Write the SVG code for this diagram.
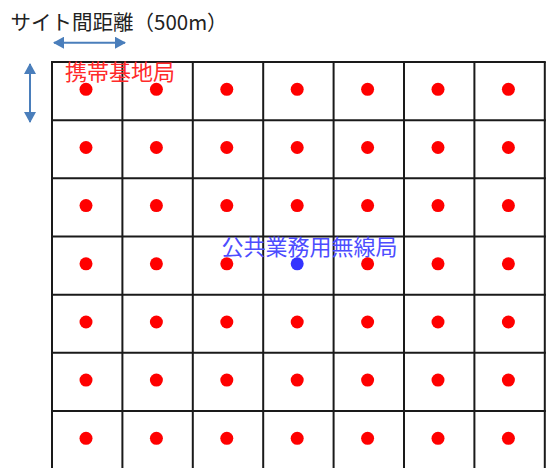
<svg xmlns="http://www.w3.org/2000/svg" width="549" height="468" viewBox="0 0 549 468">
<style>
.grid line{stroke:#1a1a1a;stroke-width:2}
.bs{fill:#ff0000}
.pub{fill:#3333ff}
.t{font-family:"Noto Sans CJK JP","Noto Sans",sans-serif}
.arr{stroke:#4a7ebb;stroke-width:2;fill:none;marker-end:url(#ah);marker-start:url(#ahs)}
</style>
<defs>
<marker id="ah" markerUnits="userSpaceOnUse" markerWidth="11" markerHeight="12" refX="10" refY="6" orient="auto"><path d="M0,0 L11,6 L0,12 z" fill="#4a7ebb"/></marker>
<marker id="ahs" markerUnits="userSpaceOnUse" markerWidth="11" markerHeight="12" refX="10" refY="6" orient="auto-start-reverse"><path d="M0,0 L11,6 L0,12 z" fill="#4a7ebb"/></marker>
</defs>
<rect width="549" height="468" fill="#ffffff"/>
<g id="grid" class="grid">
<line x1="52" y1="62" x2="52" y2="468"/>
<line x1="122.4" y1="62" x2="122.4" y2="468"/>
<line x1="192.8" y1="62" x2="192.8" y2="468"/>
<line x1="263.2" y1="62" x2="263.2" y2="468"/>
<line x1="333.6" y1="62" x2="333.6" y2="468"/>
<line x1="404" y1="62" x2="404" y2="468"/>
<line x1="474.4" y1="62" x2="474.4" y2="468"/>
<line x1="544.8" y1="62" x2="544.8" y2="468"/>
<line x1="51" y1="62" x2="545.8" y2="62"/>
<line x1="51" y1="120.2" x2="545.8" y2="120.2"/>
<line x1="51" y1="178.3" x2="545.8" y2="178.3"/>
<line x1="51" y1="236.5" x2="545.8" y2="236.5"/>
<line x1="51" y1="294.7" x2="545.8" y2="294.7"/>
<line x1="51" y1="352.8" x2="545.8" y2="352.8"/>
<line x1="51" y1="411" x2="545.8" y2="411"/>
</g>
<g id="connectors">
<line class="arr" x1="54" y1="42.7" x2="125" y2="42.7"/>
<line class="arr" x1="30" y1="64" x2="30" y2="122"/>
</g>
<g id="label-distance"><text class="t" x="10.5" y="30" font-size="20.5" fill="#222">サイト間距離（500m）</text></g>
<g id="label-base"><text class="t" x="65" y="79.5" font-size="22" fill="#ff2a2a">携帯基地局</text></g>
<g id="label-public"><text class="t" x="221.5" y="254.5" font-size="22" fill="#4d4dff">公共業務用無線局</text></g>
<g id="base-stations">
<circle class="bs" cx="86" cy="89.3" r="6.5"/><circle class="bs" cx="156.4" cy="89.3" r="6.5"/><circle class="bs" cx="226.8" cy="89.3" r="6.5"/><circle class="bs" cx="297.2" cy="89.3" r="6.5"/><circle class="bs" cx="367.6" cy="89.3" r="6.5"/><circle class="bs" cx="438" cy="89.3" r="6.5"/><circle class="bs" cx="508.4" cy="89.3" r="6.5"/>
<circle class="bs" cx="86" cy="147.5" r="6.5"/><circle class="bs" cx="156.4" cy="147.5" r="6.5"/><circle class="bs" cx="226.8" cy="147.5" r="6.5"/><circle class="bs" cx="297.2" cy="147.5" r="6.5"/><circle class="bs" cx="367.6" cy="147.5" r="6.5"/><circle class="bs" cx="438" cy="147.5" r="6.5"/><circle class="bs" cx="508.4" cy="147.5" r="6.5"/>
<circle class="bs" cx="86" cy="205.6" r="6.5"/><circle class="bs" cx="156.4" cy="205.6" r="6.5"/><circle class="bs" cx="226.8" cy="205.6" r="6.5"/><circle class="bs" cx="297.2" cy="205.6" r="6.5"/><circle class="bs" cx="367.6" cy="205.6" r="6.5"/><circle class="bs" cx="438" cy="205.6" r="6.5"/><circle class="bs" cx="508.4" cy="205.6" r="6.5"/>
<circle class="bs" cx="86" cy="263.8" r="6.5"/><circle class="bs" cx="156.4" cy="263.8" r="6.5"/><circle class="bs" cx="226.8" cy="263.8" r="6.5"/><circle class="bs" cx="367.6" cy="263.8" r="6.5"/><circle class="bs" cx="438" cy="263.8" r="6.5"/><circle class="bs" cx="508.4" cy="263.8" r="6.5"/>
<circle class="bs" cx="86" cy="322" r="6.5"/><circle class="bs" cx="156.4" cy="322" r="6.5"/><circle class="bs" cx="226.8" cy="322" r="6.5"/><circle class="bs" cx="297.2" cy="322" r="6.5"/><circle class="bs" cx="367.6" cy="322" r="6.5"/><circle class="bs" cx="438" cy="322" r="6.5"/><circle class="bs" cx="508.4" cy="322" r="6.5"/>
<circle class="bs" cx="86" cy="380.1" r="6.5"/><circle class="bs" cx="156.4" cy="380.1" r="6.5"/><circle class="bs" cx="226.8" cy="380.1" r="6.5"/><circle class="bs" cx="297.2" cy="380.1" r="6.5"/><circle class="bs" cx="367.6" cy="380.1" r="6.5"/><circle class="bs" cx="438" cy="380.1" r="6.5"/><circle class="bs" cx="508.4" cy="380.1" r="6.5"/>
<circle class="bs" cx="86" cy="438.3" r="6.5"/><circle class="bs" cx="156.4" cy="438.3" r="6.5"/><circle class="bs" cx="226.8" cy="438.3" r="6.5"/><circle class="bs" cx="297.2" cy="438.3" r="6.5"/><circle class="bs" cx="367.6" cy="438.3" r="6.5"/><circle class="bs" cx="438" cy="438.3" r="6.5"/><circle class="bs" cx="508.4" cy="438.3" r="6.5"/>
</g>
<g id="public-station"><circle class="pub" cx="297.2" cy="263.8" r="6.5"/></g>
</svg>
